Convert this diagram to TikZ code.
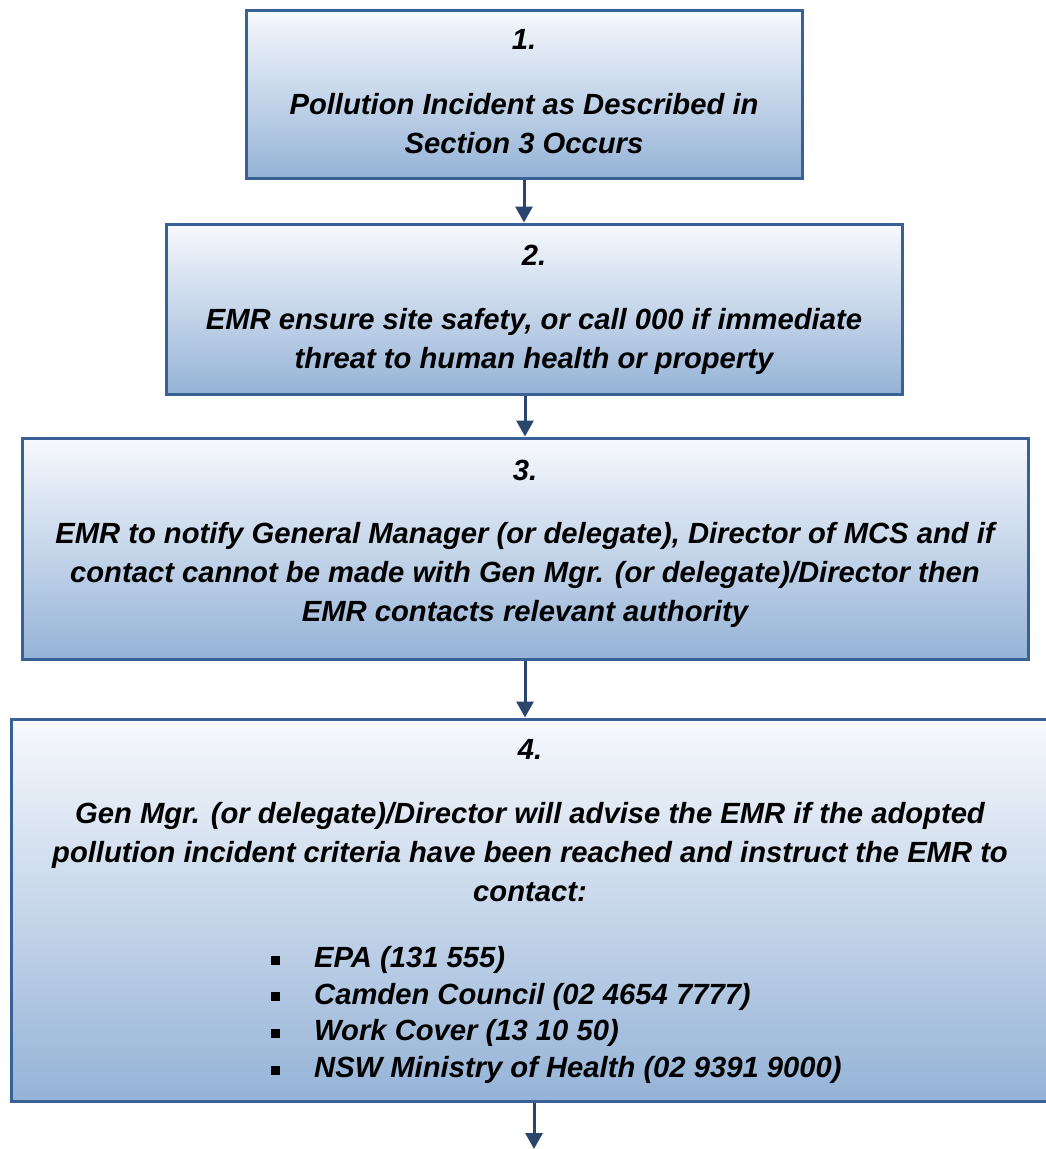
\documentclass[tikz,border=0pt]{standalone}
\usepackage{fontspec}
\setmainfont{Liberation Sans}
\usepackage{tikz}
\usetikzlibrary{arrows.meta}
\definecolor{boxtop}{HTML}{F7F9FD}
\definecolor{boxbottom}{HTML}{95B3D7}
\definecolor{boxline}{HTML}{3A6196}
\definecolor{arrowline}{HTML}{2A466D}
\tikzset{
  stepbox/.style={draw=boxline, line width=3pt, top color=boxtop, bottom color=boxbottom, inner sep=0pt},
  steptext/.style={font=\fontsize{29.2}{39}\selectfont\bfseries\itshape, align=center, inner sep=0pt},
  flowarrow/.style={draw=arrowline, line width=3pt, -{Triangle[width=17pt,length=16pt]}}
}
\newcommand{\sqbullet}{\makebox[43pt][l]{\rule[3pt]{9pt}{9pt}}}
\begin{document}
\begin{tikzpicture}[x=1pt,y=-1pt]
    \useasboundingbox (0,0) rectangle (1046,1149);
    % Boxes
    \node[stepbox, minimum width=556pt, minimum height=168pt] (box1) at (524,94) {};
    \node[stepbox, minimum width=736pt, minimum height=170pt] (box2) at (534,309) {};
    \node[stepbox, minimum width=1006pt, minimum height=221pt] (box3) at (525,548.5) {};
    \node[stepbox, minimum width=1046pt, minimum height=382pt] (box4) at (534,910) {};
    % Box texts
    \node[steptext] (num1) at (524,39.5) {1.};
    \node[steptext] (text1) at (524,124) {Pollution Incident as Described in\\Section 3 Occurs};
    \node[steptext] (num2) at (534,255) {2.};
    \node[steptext] (text2) at (534,341) {EMR ensure site safety, or call 000 if immediate\\threat to human health or property};
    \node[steptext] (num3) at (525,470) {3.};
    \node[steptext] (text3) at (525,575) {EMR to notify General Manager (or delegate), Director of MCS and if\\contact cannot be made with Gen Mgr. (or delegate)/Director then\\EMR contacts relevant authority};
    \node[steptext] (num4) at (530,749) {4.};
    \node[steptext] (text4) at (530,852.5) {Gen Mgr. (or delegate)/Director will advise the EMR if the adopted\\pollution incident criteria have been reached and instruct the EMR to\\contact:};
    % Contact list
    \node[steptext, align=left, anchor=west, font=\fontsize{29.2}{36.7}\selectfont\bfseries\itshape] (contacts) at (271,1015) {\sqbullet EPA (131 555)\\\sqbullet Camden Council (02 4654 7777)\\\sqbullet Work Cover (13 10 50)\\\sqbullet NSW Ministry of Health (02 9391 9000)};
    % Arrows
    \coordinate (next) at (534,1149);
    \draw[flowarrow] (box1.south) -- (box1.south |- box2.north);
    \draw[flowarrow] (box3.north |- box2.south) -- (box3.north);
    \draw[flowarrow] (box3.south) -- (box3.south |- box4.north);
    \draw[flowarrow] (box4.south) -- (next);
\end{tikzpicture}
\end{document}
